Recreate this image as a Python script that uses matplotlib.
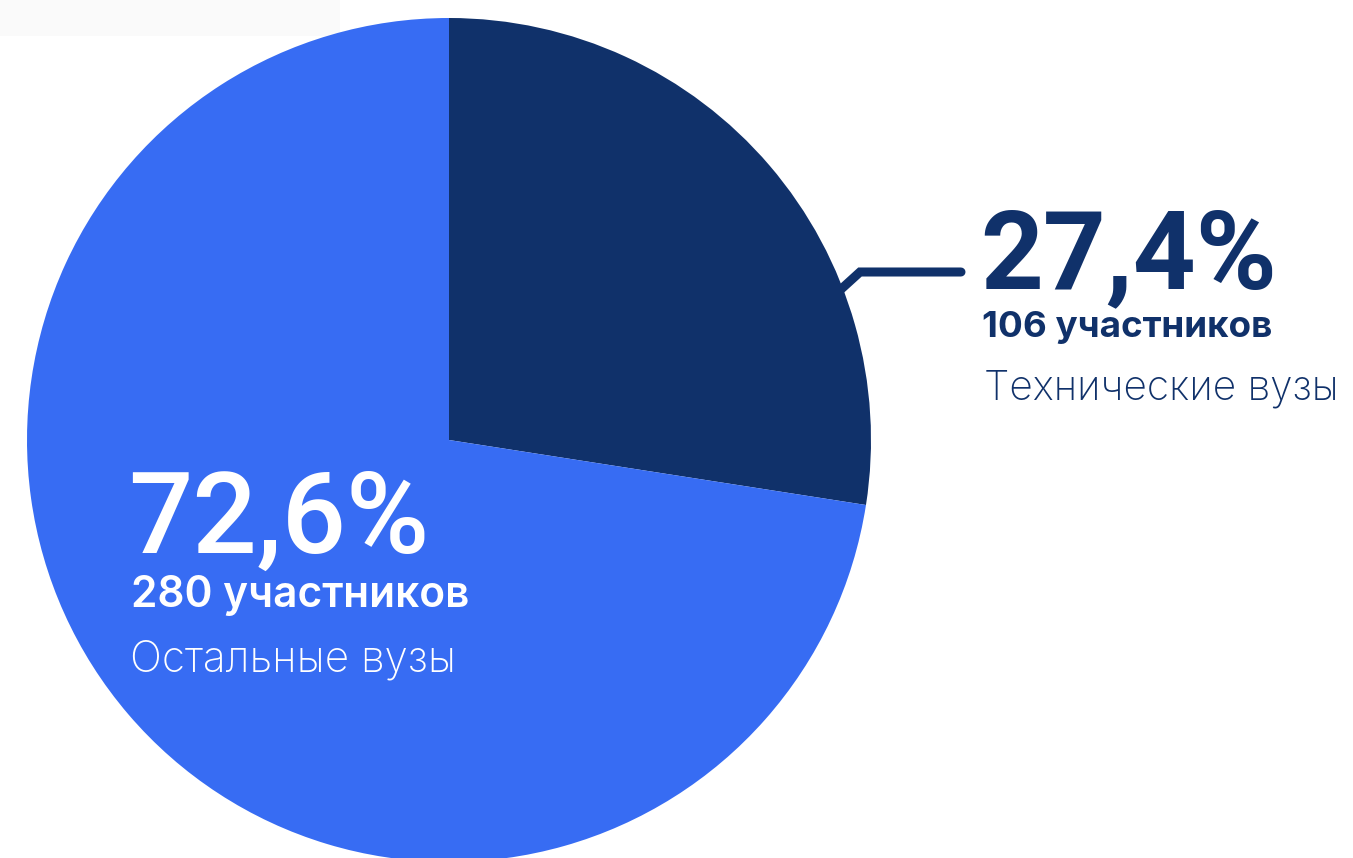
import matplotlib.pyplot as plt
from matplotlib.patches import Rectangle

# Данные
labels = ["Технические вузы", "Остальные вузы"]
counts = [106, 280]
shares = ["27,4%", "72,6%"]
colors = ["#10316A", "#376CF3"]

W, H = 1353, 858
fig = plt.figure(figsize=(W / 100, H / 100), dpi=100)
ax = fig.add_axes([0, 0, 1, 1])

# светлая полоска сверху слева (как в исходнике)
ax.add_patch(Rectangle((0, H - 36), 340, 36, color="#FAFAFA", lw=0, zorder=0))

cx, cy, r = 449, H - 440, 422
ax.pie(counts, colors=colors, startangle=90, counterclock=False,
       center=(cx, cy), radius=r, frame=True,
       wedgeprops=dict(linewidth=0))
ax.set_xlim(0, W)
ax.set_ylim(0, H)
ax.set_aspect("equal")
ax.axis("off")

big = "Roboto"
small = "Inter"

# выноска к тёмному сектору
ax.plot([838, 860, 961], [H - 292, H - 272, H - 272], color=colors[0],
        lw=6.5, solid_capstyle="round", solid_joinstyle="miter", zorder=3)

# подписи справа
ax.text(980, H - 288, shares[0], color=colors[0], fontsize=79,
        fontweight="bold", family=big, va="baseline", ha="left")
ax.text(982, H - 337, f"{counts[0]} участников", color=colors[0], fontsize=26.5,
        fontweight="bold", family=small, va="baseline", ha="left")
ax.text(984, H - 399, labels[0], color=colors[0], fontsize=29.3,
        fontweight="light", family=small, va="baseline", ha="left")

# подписи слева (внутри сектора)
ax.text(128, H - 553, shares[1], color="white", fontsize=81.5,
        fontweight="medium", family=big, va="baseline", ha="left")
ax.text(131, H - 607, f"{counts[1]} участников", color="white", fontsize=30.5,
        fontweight="semibold", family=small, va="baseline", ha="left")
ax.text(130, H - 671, labels[1], color="white", fontsize=30.5,
        fontweight="light", family=small, va="baseline", ha="left")

fig.savefig("out.png", dpi=100)
